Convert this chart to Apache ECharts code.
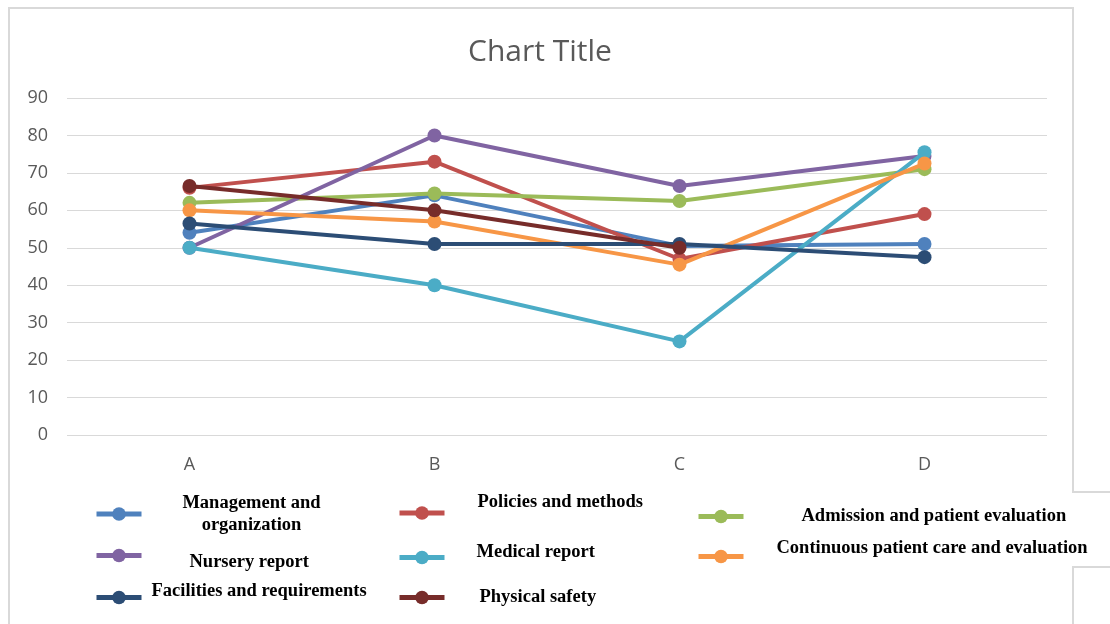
<!DOCTYPE html>
<html lang="en">
<head>
    <meta charset="UTF-8">
    <title>Chart Title</title>
    <script src="https://cdn.jsdelivr.net/npm/echarts@6/dist/echarts.min.js"></script>
    <style>
        html, body { margin: 0; padding: 0; background: #fff; }
    </style>
</head>
<body>
    <div id="main" style="width: 1110px; height: 624px;"></div>
    <script>
    // categories and values
    const categories = ['A', 'B', 'C', 'D']
    const management = [54, 64, 50.5, 51]
    const policies = [66, 73, 47, 59]
    const admission = [62, 64.5, 62.5, 71]
    const nursery = [50, 80, 66.5, 74.5]
    const medical = [50, 40, 25, 75.5]
    const continuous = [60, 57, 45.5, 72.5]
    const facilities = [56.5, 51, 51, 47.5]
    const physical = [66.5, 60, 50, null]

    const names = [
        'Management and organization',
        'Policies and methods',
        'Admission and patient evaluation',
        'Nursery report',
        'Medical report',
        'Continuous patient care and evaluation',
        'Facilities and requirements',
        'Physical safety'
    ]
    const values = [management, policies, admission, nursery, medical, continuous, facilities, physical]
    const colors = ['#4F81BD', '#C0504D', '#9BBB59', '#8064A2', '#4BACC6', '#F79646', '#2C4D75', '#772C2A']

    // legend placement: [left, top, padLeft, lineHeight, shift]  shift: -1 text up, 1 text down, 0 none
    const legendPos = [
        [94, 492, 35, 22, 0],
        [397, 491, 28, 22, -1],
        [696, 507, 53, 18, 0],
        [94, 539, 43, 14, 1],
        [397, 543, 27, 10, -1],
        [696, 539, 28, 16, -1],
        [94, 582, 5, 12, -1],
        [397, 588, 30, 18, 0]
    ]

    const legends = names.map(function (name, i) {
        const p = legendPos[i]
        const lg = {
            left: p[0],
            top: p[1],
            padding: 0,
            itemWidth: 45,
            itemHeight: 17,
            selectedMode: false,
            data: [name],
            lineStyle: { width: 5 },
            formatter: function (n) {
                if (p[4] < 0) return n + '\n'
                if (p[4] > 0) return '\n' + n
                return n
            },
            textStyle: {
                fontFamily: 'Liberation Serif',
                fontWeight: 'bold',
                fontSize: 18.5,
                lineHeight: p[3],
                color: '#000',
                backgroundColor: 'transparent',
                padding: [0, 0, 0, p[2]]
            }
        }
        if (i === 0) {
            lg.formatter = '{a|Management and}\n{a|organization}'
            lg.textStyle.rich = {
                a: {
                    fontFamily: 'Liberation Serif',
                    fontWeight: 'bold',
                    fontSize: 18.5,
                    lineHeight: 22,
                    color: '#000',
                    width: 140,
                    align: 'center'
                }
            }
        }
        return lg
    })

    const series = names.map(function (name, i) {
        return {
            name: name,
            type: 'line',
            data: values[i],
            symbol: 'circle',
            symbolSize: 14,
            color: colors[i],
            lineStyle: { width: 4 },
            connectNulls: false,
            z: 2 + i
        }
    })

    const myChart = echarts.init(document.getElementById('main'))
    const option = {
        backgroundColor: '#fff',
        animation: false,
        title: {
            text: 'Chart Title',
            left: 463,
            top: 32,
            textStyle: {
                fontFamily: 'Open Sans',
                fontWeight: 'normal',
                fontSize: 30,
                color: '#595959'
            }
        },
        legend: legends,
        grid: {
            left: 67,
            right: 63,
            top: 98,
            bottom: 189
        },
        xAxis: {
            type: 'category',
            data: categories,
            axisLine: { show: false },
            axisTick: { show: false },
            axisLabel: {
                margin: 21,
                fontFamily: 'Open Sans',
                fontSize: 18,
                color: '#595959'
            }
        },
        yAxis: {
            type: 'value',
            min: 0,
            max: 90,
            interval: 10,
            axisLine: { show: false },
            axisTick: { show: false },
            axisLabel: {
                margin: 19,
                fontFamily: 'Open Sans',
                fontSize: 18,
                color: '#595959'
            },
            splitLine: { lineStyle: { color: '#d9d9d9', width: 1 } }
        },
        graphic: [
            {
                type: 'polyline',
                shape: { points: [[9, 624], [9, 8], [1073, 8], [1073, 492], [1110, 492]] },
                style: { stroke: '#d9d9d9', lineWidth: 2, fill: null },
                silent: true
            },
            {
                type: 'polyline',
                shape: { points: [[1110, 567], [1073, 567], [1073, 624]] },
                style: { stroke: '#d9d9d9', lineWidth: 2, fill: null },
                silent: true
            }
        ],
        series: series
    }
    myChart.setOption(option)
    </script>
</body>
</html>
